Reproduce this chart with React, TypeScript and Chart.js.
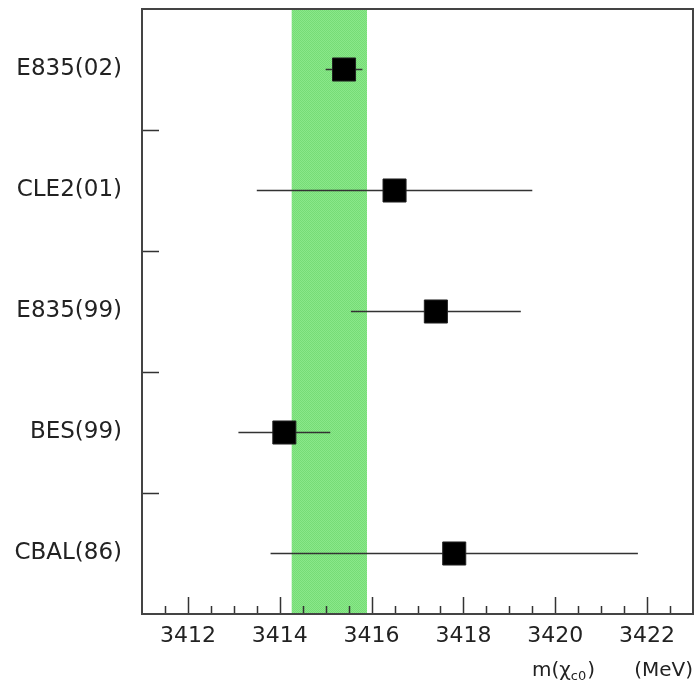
import { useEffect, useRef } from "react";
import { Chart, registerables } from "chart.js";

Chart.register(...registerables);

// Measurements of the chi_c0 mass, one row per experiment (top to bottom)
const experiments = ["E835(02)", "CLE2(01)", "E835(99)", "BES(99)", "CBAL(86)"];
const massValues = [3415.4, 3416.5, 3417.4, 3414.1, 3417.8];
const massErrors = [0.4, 3.0, 1.85, 1.0, 4.0];

// Average value band (low, high edge) in MeV
const averageBand = [3414.26, 3415.9];

// Axis ticks
const xMajorTicks = [3412, 3414, 3416, 3418, 3420, 3422];
const xMinorStep = 0.5;
const xRange = [3411, 3423];

const FONT = "'DejaVu Sans', sans-serif";
const TEXT_COLOR = "#222";

function makeBandPattern(ctx: CanvasRenderingContext2D): CanvasPattern | string {
  const c = document.createElement("canvas");
  c.width = 2;
  c.height = 2;
  const p = c.getContext("2d");
  if (!p) return "#84e484";
  p.fillStyle = "#8ae88a";
  p.fillRect(0, 0, 2, 2);
  p.fillStyle = "#76dc76";
  p.fillRect(0, 0, 1, 1);
  p.fillRect(1, 1, 1, 1);
  return ctx.createPattern(c, "repeat") || "#84e484";
}

function clearPadding(scale: any) {
  scale.paddingTop = 0;
  scale.paddingBottom = 0;
  scale.paddingLeft = 0;
  scale.paddingRight = 0;
}

const decorations = {
  id: "decorations",
  beforeDatasetsDraw(chart: any) {
    const { ctx, chartArea: a, scales } = chart;
    const x = scales.x;
    const x0 = x.getPixelForValue(averageBand[0]);
    const x1 = x.getPixelForValue(averageBand[1]);
    ctx.save();
    ctx.fillStyle = makeBandPattern(ctx);
    ctx.fillRect(x0, a.top, x1 - x0, a.bottom - a.top);
    ctx.restore();
  },
  afterDraw(chart: any) {
    const { ctx, chartArea: a, scales } = chart;
    const x = scales.x;
    const y = scales.y;
    ctx.save();

    // inward tick marks on the x axis
    ctx.strokeStyle = "#333";
    ctx.lineWidth = 1.5;
    ctx.beginPath();
    for (let v = xRange[0] + xMinorStep; v < xRange[1] - 1e-9; v += xMinorStep) {
      const px = Math.round(x.getPixelForValue(v)) + 0.5;
      const major = xMajorTicks.some((t) => Math.abs(t - v) < 1e-6);
      const len = major ? 17 : 8;
      ctx.moveTo(px, a.bottom);
      ctx.lineTo(px, a.bottom - len);
    }
    // row separators on the y axis
    for (let i = 1; i < experiments.length; i++) {
      const py = Math.round(y.getPixelForValue(i)) + 0.5;
      ctx.moveTo(a.left, py);
      ctx.lineTo(a.left + 17, py);
    }
    ctx.stroke();

    // frame
    ctx.strokeStyle = "#444";
    ctx.lineWidth = 2;
    ctx.strokeRect(a.left, a.top, a.right - a.left, a.bottom - a.top);

    // axis title: m(chi_c0)   (MeV)
    ctx.fillStyle = TEXT_COLOR;
    ctx.textBaseline = "alphabetic";
    const base = 676;
    ctx.font = `20px ${FONT}`;
    ctx.textAlign = "right";
    ctx.fillText("(MeV)", 693, base);
    ctx.textAlign = "left";
    let cx = 532;
    ctx.fillText("m(χ", cx, base);
    cx += ctx.measureText("m(χ").width;
    ctx.font = `13px ${FONT}`;
    ctx.fillText("c0", cx, base + 4);
    cx += ctx.measureText("c0").width + 1;
    ctx.font = `20px ${FONT}`;
    ctx.fillText(")", cx, base);

    ctx.restore();
  },
};

export default function App() {
  const canvasRef = useRef<HTMLCanvasElement | null>(null);

  useEffect(() => {
    const canvas = canvasRef.current;
    if (!canvas) return;

    const errorBars = massValues.map((m, i) => ({
      type: "line" as const,
      data: [
        { x: m - massErrors[i], y: i + 0.5 },
        { x: m + massErrors[i], y: i + 0.5 },
      ],
      showLine: true,
      borderColor: "#333",
      borderWidth: 1.5,
      pointRadius: 0,
      order: 1,
    }));

    const chart = new Chart(canvas, {
      type: "scatter",
      data: {
        datasets: [
          {
            data: massValues.map((m, i) => ({ x: m, y: i + 0.5 })),
            pointStyle: "rect",
            pointRadius: 16.3,
            backgroundColor: "#000",
            borderColor: "#222",
            borderWidth: 1,
            order: 0,
          } as any,
          ...errorBars,
        ],
      },
      options: {
        responsive: false,
        animation: false,
        devicePixelRatio: 1,
        layout: { autoPadding: false, padding: { top: 9, right: 1, left: 0, bottom: 0 } },
        plugins: { legend: { display: false }, tooltip: { enabled: false } },
        scales: {
          x: {
            type: "linear",
            min: xRange[0],
            max: xRange[1],
            grid: { display: false, drawTicks: false },
            border: { display: false },
            afterBuildTicks: (scale: any) => {
              scale.ticks = xMajorTicks.map((v) => ({ value: v }));
            },
            afterFit: (scale: any) => {
              scale.height = 68;
              clearPadding(scale);
            },
            ticks: {
              padding: 9,
              color: TEXT_COLOR,
              font: { family: FONT, size: 22 },
              callback: (v: any) => String(v),
            },
          },
          y: {
            type: "linear",
            min: 0,
            max: experiments.length,
            reverse: true,
            grid: { display: false, drawTicks: false },
            border: { display: false },
            afterBuildTicks: (scale: any) => {
              scale.ticks = experiments.map((_, i) => ({ value: i + 0.5 }));
            },
            afterFit: (scale: any) => {
              scale.width = 142;
              clearPadding(scale);
            },
            ticks: {
              padding: 20,
              color: TEXT_COLOR,
              font: { family: FONT, size: 23 },
              callback: (v: any) => experiments[Math.floor(Number(v))] ?? "",
            },
          },
        },
      },
      plugins: [decorations],
    });

    return () => chart.destroy();
  }, []);

  return (
    <div style={{ position: "absolute", left: 0, top: 0, width: 694, height: 682, background: "#fff" }}>
      <canvas ref={canvasRef} width={694} height={682} style={{ display: "block" }} />
    </div>
  );
}
